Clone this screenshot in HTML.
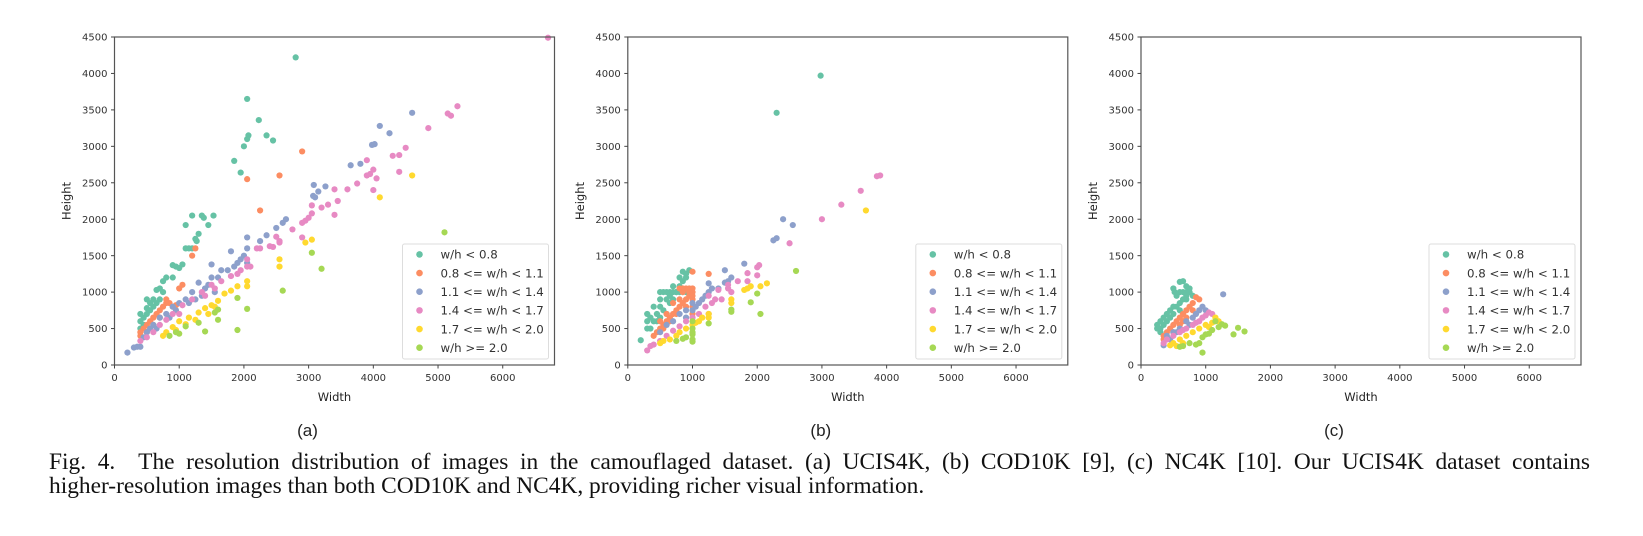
<!DOCTYPE html>
<html><head><meta charset="utf-8"><style>
html,body{margin:0;padding:0;background:#fff;}
body{position:relative;width:1643px;height:536px;overflow:hidden;}
svg{display:block;position:absolute;left:0;top:0;}
.cap{position:absolute;left:49px;width:1541px;font-family:"Liberation Serif",serif;font-size:23.4px;line-height:25px;color:#111;white-space:nowrap;}
.j{text-align:justify;text-align-last:justify;white-space:normal;}
</style></head><body>
<svg id="fig" width="1643" height="536" viewBox="0 0 1643 536" xmlns="http://www.w3.org/2000/svg">
<rect width="1643" height="536" fill="#fff"/>
<g id="panels"></g>
</svg>
<div class="cap j" style="top:450px">Fig. 4.&nbsp; The resolution distribution of images in the camouflaged dataset. (a) UCIS4K, (b) COD10K [9], (c) NC4K [10]. Our UCIS4K dataset contains</div>
<div class="cap" style="top:474px">higher-resolution images than both COD10K and NC4K, providing richer visual information.</div>
<script>
const seriesLabels = ["w/h < 0.8","0.8 <= w/h < 1.1","1.1 <= w/h < 1.4","1.4 <= w/h < 1.7","1.7 <= w/h < 2.0","w/h >= 2.0"];
const xTicks = [0,1000,2000,3000,4000,5000,6000];
const yTicks = [0,500,1000,1500,2000,2500,3000,3500,4000,4500];
const panelLabels = ["(a)","(b)","(c)"];

const aTeal = [[2800,4220],[2050,3650],[2230,3360],[2070,3150],[2050,3100],[2000,3000],[2350,3150],[2450,3080],[1850,2800],[1950,2640],[1200,2050],[1350,2050],[1380,2020],[1530,2050],[1100,1920],[1450,1920],[1300,1800],[1250,1730],[1270,1700],[1150,1600],[1100,1600],[1200,1600],[900,1370],[950,1350],[1050,1380],[1000,1330],[900,1200],[800,1200],[750,1150],[700,1050],[650,1030],[750,1000],[500,900],[600,900],[700,900],[550,850],[600,800],[500,780],[400,700],[450,650],[400,600],[500,700],[450,550],[550,750],[650,850],[400,500]];
const aOrange = [[2900,2930],[2050,2550],[2550,2600],[2250,2120],[1250,1600],[1200,1500],[1000,1050],[1050,1100],[800,900],[850,850],[750,800],[700,750],[650,700],[600,650],[500,550],[450,500],[400,450],[400,400],[550,600],[800,850],[900,800],[950,820],[700,650],[600,550],[500,450]];
const aBlue = [[200,170],[300,240],[350,250],[400,250],[4600,3460],[4100,3280],[4250,3180],[3980,3020],[4020,3030],[3650,2740],[3800,2760],[3080,2470],[3260,2450],[3150,2380],[3070,2320],[3100,2300],[2650,2000],[2600,1950],[2500,1880],[2350,1780],[2250,1700],[2050,1750],[1800,1560],[2000,1500],[2050,1600],[2050,1400],[1900,1400],[1750,1300],[1500,1380],[1650,1300],[1500,1200],[1300,1130],[1400,1050],[1200,1000],[1100,900],[1000,850],[900,800],[800,700],[700,650],[600,550],[500,450],[550,500],[1600,1200],[1450,1100],[1350,950],[1250,900],[1150,850],[950,750],[850,650],[650,500],[450,380],[1550,1000],[1950,1450],[1850,1350]];
const aPink = [[5300,3550],[5150,3450],[5200,3420],[4850,3250],[4500,2980],[4300,2870],[4400,2880],[3900,2810],[4000,2680],[3950,2620],[3900,2600],[4050,2560],[4400,2650],[3750,2490],[3600,2410],[3400,2410],[4000,2400],[3450,2250],[3300,2200],[3050,2190],[3200,2160],[3400,2060],[3050,2080],[3000,2020],[2950,1980],[2900,1950],[2750,1860],[2500,1760],[2550,1700],[2550,1680],[2400,1630],[2450,1620],[2200,1600],[2250,1600],[2900,1750],[2050,1450],[2100,1350],[1950,1300],[1800,1220],[1650,1150],[1500,1100],[1350,1000],[1200,900],[1050,820],[900,700],[800,620],[700,550],[600,450],[500,380],[400,330],[1550,1050],[1400,950],[1000,700],[6700,4490],[2050,1350],[1900,1250]];
const aYellow = [[4600,2600],[4100,2300],[2950,1680],[3050,1720],[2550,1450],[2550,1350],[2050,1150],[2050,1080],[1900,1080],[1800,1020],[1700,980],[1600,880],[1500,820],[1400,780],[1300,720],[1150,650],[1000,600],[900,520],[800,450],[750,400],[1250,620],[1100,560],[950,480],[1450,700],[1550,800]];
const aGreen = [[5100,1820],[3050,1540],[3200,1320],[2600,1020],[1900,920],[2050,770],[1900,480],[1600,760],[1600,620],[1400,460],[1300,580],[1000,430],[950,450],[1100,530],[850,400],[1550,720]];

const bTeal = [[2980,3970],[2300,3460],[200,340],[300,500],[300,600],[300,700],[350,650],[400,800],[400,600],[450,700],[500,800],[500,900],[500,1000],[550,1000],[600,1000],[650,1000],[700,1000],[750,1000],[800,1000],[850,1000],[900,1000],[950,1000],[600,900],[650,850],[700,900],[800,1200],[850,1280],[900,1250],[950,1300],[750,1000],[550,750],[600,700],[800,1080],[700,1080],[450,600],[500,650],[350,500],[650,950],[900,1200],[850,1150]];
const bOrange = [[1000,1280],[1250,1250],[400,400],[450,450],[500,500],[550,550],[600,600],[650,650],[700,700],[750,750],[800,800],[850,850],[900,900],[950,950],[1000,1000],[1000,1050],[950,1050],[900,1050],[850,1050],[800,1050],[1000,900],[1000,800],[1000,700],[900,800],[800,900],[700,850],[600,700],[500,600],[550,500],[650,600],[750,700],[850,1000],[950,1000],[1000,950]];
const bBlue = [[2400,2000],[2550,1920],[2250,1710],[2300,1740],[1800,1390],[1500,1300],[1600,1200],[1500,1130],[1250,1120],[1300,1050],[1400,1050],[1200,950],[1100,850],[1000,850],[900,750],[800,700],[700,600],[600,550],[500,450],[1000,750],[1250,1000],[1150,900],[1550,1150],[900,650],[1050,800]];
const bPink = [[3900,2600],[3850,2590],[3600,2390],[3300,2200],[3000,2000],[2500,1670],[2000,1340],[2030,1370],[1850,1260],[2000,1230],[1700,1150],[1850,1150],[1550,1100],[1600,1000],[1450,900],[1350,900],[1300,850],[1200,800],[1250,700],[1100,700],[1000,650],[900,600],[800,530],[700,470],[600,400],[500,330],[400,280],[300,200],[350,260],[1550,1050],[1400,1030],[1250,950]];
const bYellow = [[3680,2120],[2150,1120],[2050,1080],[1900,1080],[1850,1050],[1800,1030],[1600,900],[1600,850],[1250,700],[1250,650],[1150,650],[1050,580],[1000,550],[900,500],[800,450],[750,400],[650,350],[550,330],[500,300],[1100,600]];
const bGreen = [[2600,1290],[2000,980],[2050,700],[1900,860],[1600,760],[1600,730],[1250,570],[1000,600],[1000,500],[1000,420],[1000,350],[1000,320],[900,380],[750,330],[850,360],[1000,450]];

const cTeal = [[600,1140],[650,1150],[700,1080],[750,1050],[500,1050],[520,1000],[550,950],[600,1000],[650,1000],[700,1000],[750,1000],[800,950],[700,900],[600,850],[500,800],[450,750],[400,700],[350,650],[300,600],[250,550],[250,500],[300,450],[350,550],[400,600],[450,650],[550,800],[650,900],[300,500],[700,950],[500,700],[600,750]];
const cOrange = [[850,930],[900,900],[800,850],[750,800],[700,750],[650,700],[600,650],[550,600],[500,550],[450,500],[400,450],[350,400],[350,350],[700,650],[600,550],[500,450],[800,750],[650,600]];
const cBlue = [[1270,970],[950,800],[1000,750],[900,750],[850,700],[800,650],[700,600],[600,500],[500,450],[400,400],[350,270],[450,350],[550,450],[750,550]];
const cPink = [[1050,720],[1100,700],[1000,680],[950,650],[900,600],[800,550],[700,500],[600,450],[500,400],[400,350],[350,300],[850,580],[650,480]];
const cYellow = [[1150,650],[1200,600],[1100,580],[1000,550],[900,500],[800,450],[700,400],[600,350],[500,300],[450,270],[550,260],[650,300],[1050,520]];
const cGreen = [[1600,460],[1500,510],[1430,420],[1300,540],[1250,560],[1200,520],[1100,480],[1000,420],[950,380],[900,300],[950,170],[850,280],[750,300],[650,260],[600,250],[1050,430],[1150,600]];

const colors = ["#66c2a5","#fc8d62","#8da0cb","#e78ac3","#ffd92f","#a6d854"];
const panelData = [
  [aTeal,aOrange,aBlue,aPink,aYellow,aGreen],
  [bTeal,bOrange,bBlue,bPink,bYellow,bGreen],
  [cTeal,cOrange,cBlue,cPink,cYellow,cGreen]
];
const NS = "http://www.w3.org/2000/svg";
const root = document.getElementById("panels");
const lefts = [114.5, 627.8, 1141];
const W = 440, TOP = 37, BOT = 365, XMAX = 6800, YMAX = 4500;
function mk(tag, attrs, parent){
  const e = document.createElementNS(NS, tag);
  for (const k in attrs) e.setAttribute(k, attrs[k]);
  parent.appendChild(e);
  return e;
}
panelData.forEach((series, p) => {
  const L = lefts[p];
  const xs = v => L + v / XMAX * W;
  const ys = v => BOT - v / YMAX * (BOT - TOP);
  const g = mk("g", {}, root);
  
  
  series.forEach((pts, s) => {
    const sg = mk("g", {fill: colors[s]}, g);
    
    
    pts.forEach(pt => {
      const c = mk("circle", {cx: xs(pt[0]), cy: ys(pt[1]), r: 3.1}, sg);
      
      
    });
  });
  const frame = mk("rect", {x: L, y: TOP, width: W, height: BOT - TOP, fill: "none", stroke: "#555", "stroke-width": 1.2}, g);
  
  
  xTicks.forEach(t => {
    mk("line", {x1: xs(t), x2: xs(t), y1: BOT, y2: BOT + 3.5, stroke: "#444"}, g);
    const tx = mk("text", {x: xs(t), y: BOT + 16, "text-anchor": "middle", "font-family": "DejaVu Sans, sans-serif", "font-size": 10, fill: "#333"}, g);
    tx.textContent = t;
    
    
  });
  yTicks.forEach(t => {
    mk("line", {x1: L - 3.5, x2: L, y1: ys(t), y2: ys(t), stroke: "#444"}, g);
    const ty = mk("text", {x: L - 7, y: ys(t) + 3.6, "text-anchor": "end", "font-family": "DejaVu Sans, sans-serif", "font-size": 10, fill: "#333"}, g);
    ty.textContent = t;
    
    
  });
  const xl = mk("text", {x: L + W/2, y: BOT + 36, "text-anchor": "middle", "font-family": "DejaVu Sans, sans-serif", "font-size": 11.5, fill: "#222"}, g);
  xl.textContent = "Width";
  
  
  const yl = mk("text", {x: 0, y: 0, transform: `translate(${L - 44},${(TOP+BOT)/2}) rotate(-90)`, "text-anchor": "middle", "font-family": "DejaVu Sans, sans-serif", "font-size": 11.5, fill: "#222"}, g);
  yl.textContent = "Height";
  
  
  const pl = mk("text", {x: L + W/2 - 27, y: 436, "text-anchor": "middle", "font-family": "Liberation Sans, sans-serif", "font-size": 17, fill: "#222"}, g);
  pl.textContent = panelLabels[p];
  
  
  const lg = mk("g", {}, g);
  
  
  const LL = L + W - 152;
  mk("rect", {x: LL, y: 244, width: 146, height: 115, rx: 2, fill: "#fff", "fill-opacity": 0.85, stroke: "#ddd"}, lg);
  seriesLabels.forEach((lab, s) => {
    const cy = 254.4 + s * 18.66;
    const m = mk("circle", {cx: LL + 17, cy: cy, r: 3.3, fill: colors[s]}, lg);
    
    
    const t = mk("text", {x: LL + 38, y: cy + 4.3, "font-family": "DejaVu Sans, sans-serif", "font-size": 11.8, fill: "#333"}, lg);
    t.textContent = lab;
    
    
  });
});
</script>
</body></html>
